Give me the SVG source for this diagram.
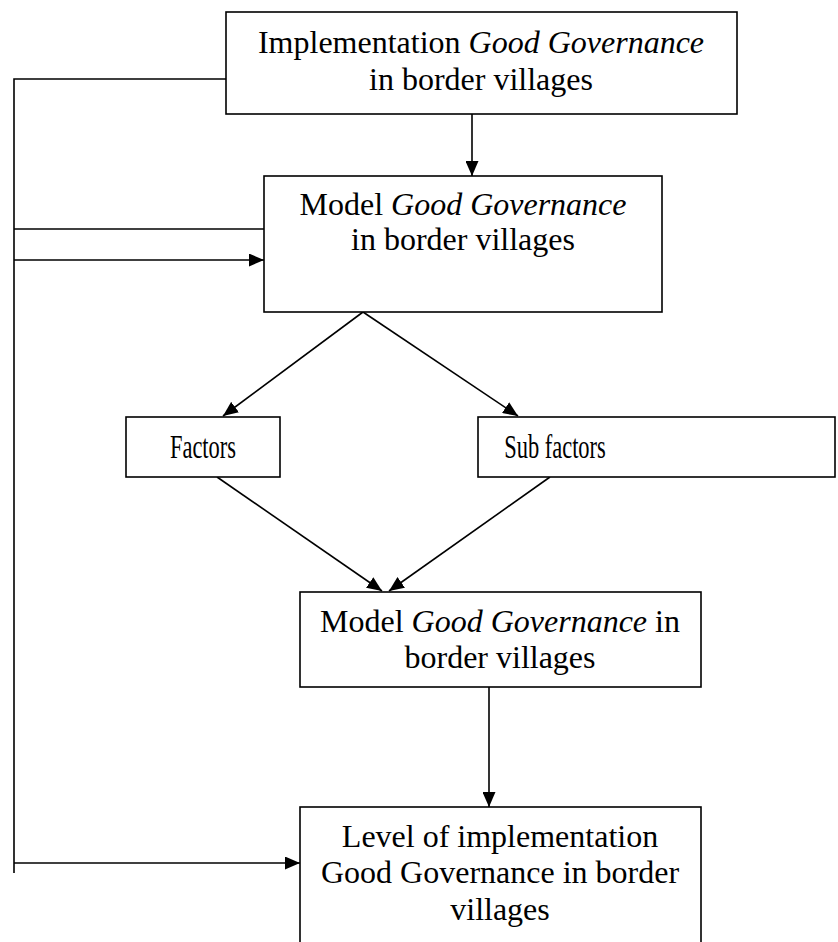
<svg xmlns="http://www.w3.org/2000/svg" width="838" height="942" viewBox="0 0 838 942">
<style>
.box{fill:#fff;stroke:#000;stroke-width:1.6}
.t{font-family:"Liberation Serif","Times New Roman",serif;font-size:32px;fill:#000;text-anchor:middle}
.n{font-size:34px}
.i{font-style:italic}
.c{fill:none;stroke:#000;stroke-width:1.6}
</style>
<defs>
<marker id="ah" markerUnits="userSpaceOnUse" markerWidth="15" markerHeight="13" viewBox="0 0 15 13" refX="15" refY="6.5" orient="auto">
<path d="M0,0 L15,6.5 L0,13 z" fill="#000"/>
</marker>
</defs>
<rect width="838" height="942" fill="#fff"/>
<g id="connectors">
<path class="c" d="M226,79 H14 V873"/>
<path class="c" d="M14,229 H264"/>
<path class="c" d="M14,260 H264" marker-end="url(#ah)"/>
<path class="c" d="M14,863 H300" marker-end="url(#ah)"/>
<path class="c" d="M472,114 V176" marker-end="url(#ah)"/>
<path class="c" d="M363,312 L223,416" marker-end="url(#ah)"/>
<path class="c" d="M363,312 L518,416" marker-end="url(#ah)"/>
<path class="c" d="M217,477 L382,591" marker-end="url(#ah)"/>
<path class="c" d="M550,477 L389,591" marker-end="url(#ah)"/>
<path class="c" d="M489,687 V807" marker-end="url(#ah)"/>
</g>
<g id="node-implementation">
<rect class="box" x="226" y="12" width="511" height="102"/>
<text class="t" x="481" y="53">Implementation <tspan class="i">Good Governance</tspan></text>
<text class="t" x="481" y="90">in border villages</text>
</g>
<g id="node-model1">
<rect class="box" x="264" y="176" width="398" height="136"/>
<text class="t" x="463" y="215">Model <tspan class="i">Good Governance</tspan></text>
<text class="t" x="463" y="250">in border villages</text>
</g>
<g id="node-factors">
<rect class="box" x="126" y="417" width="154" height="60"/>
<text class="t n" transform="translate(203,458) scale(0.66,1)">Factors</text>
</g>
<g id="node-subfactors">
<rect class="box" x="478" y="417" width="357" height="60"/>
<text class="t n" transform="translate(555,458) scale(0.66,1)">Sub factors</text>
</g>
<g id="node-model2">
<rect class="box" x="300" y="592" width="401" height="95"/>
<text class="t" x="500" y="632">Model <tspan class="i">Good Governance</tspan> in</text>
<text class="t" x="500" y="668">border villages</text>
</g>
<g id="node-level">
<rect class="box" x="300" y="807" width="401" height="160"/>
<text class="t" x="500" y="847">Level of implementation</text>
<text class="t" x="500" y="883">Good Governance in border</text>
<text class="t" x="500" y="920">villages</text>
</g>
</svg>
